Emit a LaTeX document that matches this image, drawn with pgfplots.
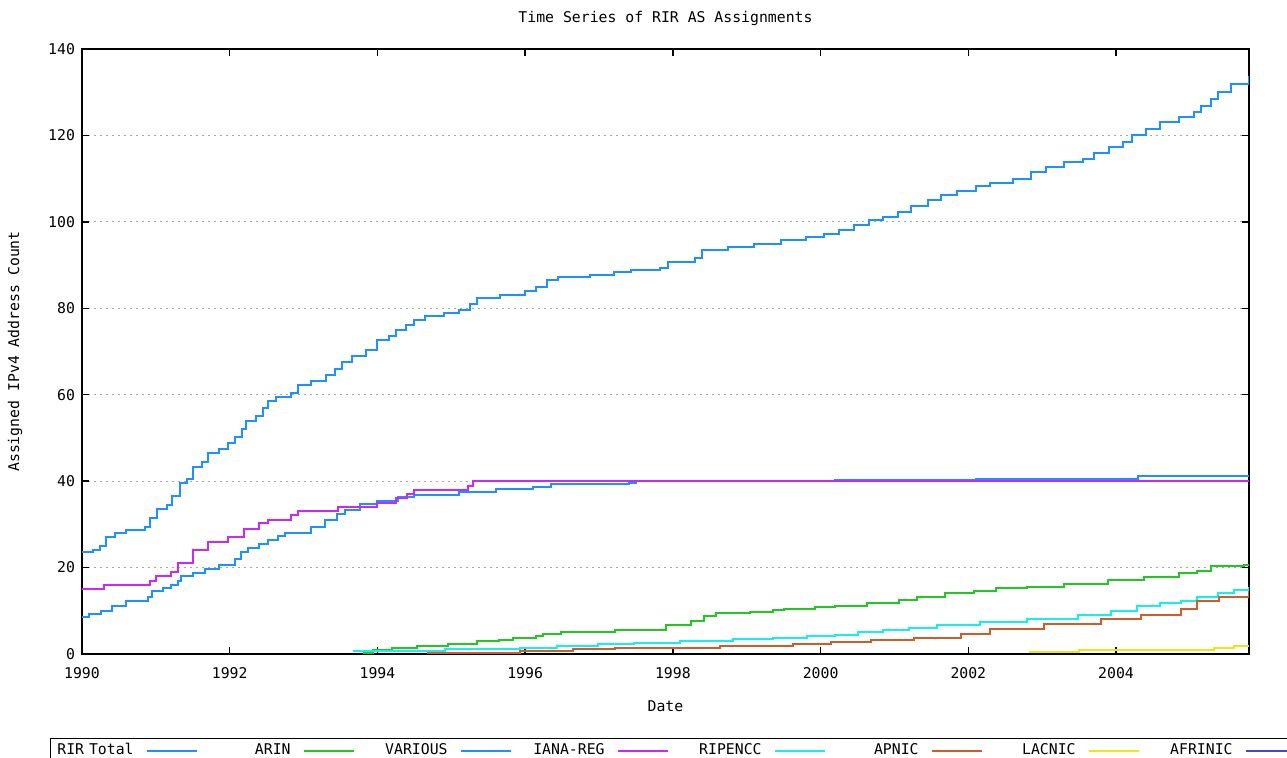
\documentclass[border=0pt]{standalone}
\usepackage{fontspec}
\setmainfont{DejaVu Sans Mono}
\usepackage{pgfplots}
\pgfplotsset{compat=1.18}

\definecolor{rirblue}{RGB}{30,144,255}
\definecolor{aringreen}{RGB}{34,200,34}
\definecolor{ianamag}{RGB}{200,40,255}
\definecolor{ripecyan}{RGB}{20,240,240}
\definecolor{apnicor}{RGB}{208,92,42}
\definecolor{lacyel}{RGB}{240,230,20}
\definecolor{afriblue}{RGB}{70,70,210}

\begin{document}
\begin{tikzpicture}[font=\fontsize{7.4}{9}\selectfont]
\useasboundingbox (0,0) rectangle (643.5pt,379pt);
\begin{axis}[
  at={(41pt,52pt)}, anchor=south west,
  scale only axis, width=583.5pt, height=302.5pt,
  xmin=1990, xmax=2005.8, ymin=0, ymax=140,
  xtick={1990,1992,...,2004}, ytick={0,20,...,140},
  tick align=inside, tick pos=both, major tick length=3.5pt,
  /pgf/number format/assume math mode=true,
  /pgf/number format/1000 sep={},
  xticklabel style={yshift=-3pt},
  axis line style={line width=0.75pt},
  every tick/.style={black, line width=0.75pt},
  ymajorgrids,
  grid style={gray!70, line width=0.6pt, dash pattern=on 1pt off 2pt},
  title={Time Series of RIR AS Assignments},
  every axis title shift=0pt,
  title style={at={(axis description cs:0.5,1.0512)}, anchor=center},
  xlabel={Date},
  xlabel style={at={(axis description cs:0.5,-0.086)}, anchor=center},
  ylabel={Assigned IPv4 Address Count},
  ylabel style={at={(axis description cs:-0.0574,0.5)}, anchor=center},
  every axis plot/.append style={const plot, line width=1pt},
  legend columns=8,
  legend plot pos=right,
  legend image code/.code={\draw[#1] (0pt,0pt) -- (25pt,0pt);},
  legend style={at={(axis description cs:-0.02742,-0.13884)}, anchor=north west,
    draw=black, line width=0.6pt, inner sep=0pt,
    nodes={inner xsep=0.5pt, inner ysep=2.5pt, text width=41pt, align=right},
    /tikz/every odd column/.append style={column sep=5.5pt},
    /tikz/every even column/.append style={column sep=5pt}},
]

% RIR Total
\addplot[rirblue] coordinates {
(1990.0,23.5) (1990.15,24) (1990.25,25) (1990.33,27) (1990.45,28) (1990.6,28.7)
(1990.85,29.4) (1990.92,31.5) (1991.02,33.5) (1991.15,34.5) (1991.22,36.5)
(1991.33,39.5) (1991.42,40.5) (1991.5,43.3) (1991.62,44.5) (1991.7,46.5)
(1991.85,47.5) (1991.98,48.8) (1992.07,50.2) (1992.17,52) (1992.22,54)
(1992.35,55) (1992.45,57) (1992.52,58.5) (1992.62,59.5) (1992.83,60.5)
(1992.92,62.2) (1993.1,63.2) (1993.3,64.6) (1993.42,66) (1993.52,67.6)
(1993.65,69) (1993.85,70.3) (1994.0,72.7) (1994.15,73.5) (1994.25,75)
(1994.38,76.1) (1994.5,77.3) (1994.65,78.2) (1994.9,78.8) (1995.1,79.5)
(1995.25,81) (1995.35,82.4) (1995.66,83.1) (1996.0,84) (1996.15,85)
(1996.3,86.5) (1996.45,87.2) (1996.88,87.7) (1997.2,88.3) (1997.43,88.9)
(1997.83,89.3) (1997.94,90.7) (1998.3,91.6) (1998.4,93.5) (1998.75,94.2)
(1999.1,94.8) (1999.46,95.8) (1999.8,96.5) (2000.05,97.2) (2000.25,98.2)
(2000.45,99.3) (2000.65,100.4) (2000.85,101.2) (2001.05,102.3) (2001.22,103.6)
(2001.45,105) (2001.63,106.2) (2001.85,107.2) (2002.1,108.2) (2002.3,109)
(2002.6,110) (2002.85,111.5) (2003.05,112.8) (2003.3,113.8) (2003.55,114.6)
(2003.7,115.9) (2003.9,117.3) (2004.1,118.5) (2004.22,120) (2004.4,121.5)
(2004.6,123.2) (2004.85,124.3) (2005.05,125.5) (2005.15,126.8) (2005.28,128.5)
(2005.38,130) (2005.55,131.8) (2005.8,133.8)
};
\addlegendentry{RIR Total}

% ARIN
\addplot[aringreen] coordinates {
(1993.8,0.2) (1993.94,1.0) (1994.2,1.5) (1994.53,1.9) (1994.96,2.3) (1995.35,2.9)
(1995.64,3.3) (1995.84,3.7) (1996.14,4.1) (1996.24,4.6) (1996.48,5.2) (1997.22,5.5)
(1997.9,6.7) (1998.24,7.7) (1998.42,8.8) (1998.58,9.4) (1999.05,9.7) (1999.35,10.1)
(1999.5,10.4) (1999.93,10.8) (2000.2,11.1) (2000.63,11.8) (2001.06,12.5)
(2001.31,13.2) (2001.69,14) (2002.08,14.6) (2002.37,15.2) (2002.8,15.5)
(2003.29,16.3) (2003.89,17.1) (2004.38,17.9) (2004.85,18.7) (2005.1,19.2)
(2005.28,20.3) (2005.73,20.7) (2005.8,20.8)
};
\addlegendentry{ARIN}

% VARIOUS
\addplot[rirblue] coordinates {
(1990.0,8.5) (1990.1,9.2) (1990.26,10) (1990.4,11) (1990.6,12.2) (1990.89,13.3)
(1990.95,14.5) (1991.1,15.2) (1991.2,15.9) (1991.3,17) (1991.34,18) (1991.5,18.8)
(1991.66,19.6) (1991.85,20.5) (1992.07,22) (1992.15,23.5) (1992.25,24.5)
(1992.4,25.5) (1992.52,26.3) (1992.65,27.3) (1992.75,28.1) (1993.1,29.4)
(1993.29,31) (1993.45,32.3) (1993.56,33.3) (1993.77,34.7) (1994.0,35.3)
(1994.28,36.3) (1994.5,36.9) (1995.1,37.5) (1995.6,38.2) (1996.1,38.6)
(1996.35,39.3) (1997.4,39.6) (1997.5,40) (2000.2,40.25) (2002.1,40.6)
(2004.3,41.1) (2004.5,41.3) (2005.8,41.3)
};
\addlegendentry{VARIOUS}

% IANA-REG
\addplot[ianamag] coordinates {
(1990.0,15) (1990.3,16) (1990.92,16.8) (1991.0,18) (1991.2,19) (1991.3,21)
(1991.5,24) (1991.7,26) (1991.98,27) (1992.2,29) (1992.4,30.2) (1992.52,31)
(1992.83,32.2) (1992.93,33.2) (1993.47,34) (1994.0,35) (1994.25,36.2)
(1994.4,37) (1994.5,38) (1995.23,38.8) (1995.3,40) (2005.8,40)
};
\addlegendentry{IANA-REG}

% RIPENCC
\addplot[ripecyan] coordinates {
(1993.67,0.8) (1994.92,1.1) (1995.93,1.5) (1996.43,1.8) (1996.98,2.2)
(1997.47,2.5) (1998.1,3.0) (1998.82,3.4) (1999.36,3.7) (1999.82,4.1)
(2000.2,4.5) (2000.5,5.0) (2000.85,5.6) (2001.2,6.1) (2001.58,6.7)
(2002.16,7.5) (2002.8,8.2) (2003.48,9.1) (2003.93,10) (2004.29,11.1)
(2004.6,11.7) (2004.88,12.3) (2005.1,13.1) (2005.38,14) (2005.6,14.8)
(2005.8,15.5)
};
\addlegendentry{RIPENCC}

% APNIC
\addplot[apnicor] coordinates {
(1994.67,0.2) (1995.93,0.8) (1996.65,1.1) (1997.22,1.5) (1998.64,1.8)
(1999.63,2.2) (2000.14,2.7) (2000.68,3.2) (2001.26,3.8) (2001.9,4.6)
(2002.3,5.8) (2003.02,6.9) (2003.8,8.1) (2004.34,9.1) (2004.88,10.4)
(2005.1,12.3) (2005.4,13.2) (2005.8,14.5)
};
\addlegendentry{APNIC}

% LACNIC
\addplot[lacyel] coordinates {
(2002.82,0.4) (2003.5,1.0) (2005.32,1.4) (2005.6,1.8) (2005.8,1.8)
};
\addlegendentry{LACNIC}

% AFRINIC (no visible data)
\addlegendimage{afriblue, line width=1pt}
\addlegendentry{AFRINIC}

\end{axis}
\end{tikzpicture}
\end{document}
